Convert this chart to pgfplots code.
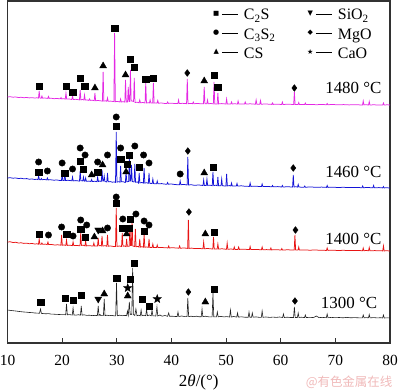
\documentclass[border=0pt]{standalone}
\usepackage{fontspec}
\setmainfont{Liberation Serif}
\newfontfamily\cjk{Noto Sans CJK SC}
\newfontfamily\djv{DejaVu Sans}
\usepackage{pgfplots}
\pgfplotsset{compat=1.18}
\definecolor{cmag}{RGB}{228,40,228}
\definecolor{cblu}{RGB}{20,20,215}
\definecolor{cred}{RGB}{232,20,20}
\definecolor{cblk}{RGB}{35,35,35}
\definecolor{cfrm}{RGB}{50,50,50}
\definecolor{cwm}{RGB}{240,185,185}
\newcommand{\lsym}[2][7]{\makebox[0pt][c]{\raisebox{2bp}{$\vcenter{\hbox{\djv\fontsize{#1}{#1}\selectfont #2}}$}}}
\newcommand{\lent}[3][7]{\lsym[#1]{#2}\hspace{5.7bp}\rule[5.6bp]{16bp}{0.8bp}\hspace{6bp}#3}
\pgfdeclareplotmark{fstar}{%
 \pgfpathmoveto{\pgfqpointpolar{90}{\pgfplotmarksize}}%
 \pgfpathlineto{\pgfqpointpolar{126}{0.42\pgfplotmarksize}}%
 \pgfpathlineto{\pgfqpointpolar{162}{\pgfplotmarksize}}%
 \pgfpathlineto{\pgfqpointpolar{198}{0.42\pgfplotmarksize}}%
 \pgfpathlineto{\pgfqpointpolar{234}{\pgfplotmarksize}}%
 \pgfpathlineto{\pgfqpointpolar{270}{0.42\pgfplotmarksize}}%
 \pgfpathlineto{\pgfqpointpolar{306}{\pgfplotmarksize}}%
 \pgfpathlineto{\pgfqpointpolar{342}{0.42\pgfplotmarksize}}%
 \pgfpathlineto{\pgfqpointpolar{18}{\pgfplotmarksize}}%
 \pgfpathlineto{\pgfqpointpolar{54}{0.42\pgfplotmarksize}}%
 \pgfpathclose\pgfusepathqfillstroke}
\begin{document}
\begin{tikzpicture}
\useasboundingbox (-7.5bp,-47bp) rectangle (392.5bp,343bp);
\begin{axis}[at={(0,0)},anchor=south west,scale only axis,width=382.5bp,height=342bp,
 xmin=10,xmax=80,ymin=0,ymax=342,clip=false,
 axis line style={cfrm,line width=1.1bp},
 xtick={10,20,30,40,50,60,70,80},ytick=\empty,xtick pos=bottom,tick align=inside,
 major tick length=5bp,tick style={cfrm,line width=0.9bp},
 /pgf/number format/assume math mode=true,
 xticklabel style={font=\fontsize{15.5}{18}\selectfont,anchor=base,yshift=-22bp},
 xlabel={2{\itshape θ}/(°)},
 xlabel style={font=\fontsize{17}{20}\selectfont,at={(axis description cs:0.5,0)},anchor=base,yshift=-43bp},
]
% 1300
\addplot[cblk,line width=0.6bp,forget plot] coordinates {(10,33)(10.5,32.6)(11,32.3)(11.5,32)(12,31.6)(12.5,31.3)(13,31)(13.5,30.8)(14,30.5)(14.5,30.4)(15,30)(15.5,29.9)(15.85,29.7)(16.05,34)(16.2,29.6)(16.6,29.4)(17,29.2)(17.5,29.4)(18,28.9)(18.5,28.8)(19,28.6)(19.5,28.5)(20,28.3)(20.4,28.4)(20.65,28.2)(20.8,39)(20.95,28.2)(21.3,28.4)(21.85,28)(22.0,35)(22.15,28)(22.6,27.9)(23.0,28.3)(23.35,27.8)(23.5,37)(23.65,27.8)(24.0,28.2)(24.5,27.6)(25.0,27.8)(25.5,27.4)(26.0,27.6)(26.45,27.4)(26.6,37)(26.75,27.5)(26.9,28.5)(27.1,27.4)(27.55,27.4)(27.7,44)(27.85,27.4)(28.2,27.8)(28.6,27.3)(29.1,27.6)(29.5,27.2)(29.8,27.2)(29.95,60)(30.1,27.2)(30.5,27.8)(31.0,27.3)(31.5,27.6)(31.8,27.3)(31.95,32)(32.1,27.6)(32.3,41)(32.45,28.5)(32.6,29)(32.75,28.5)(32.9,75)(33.05,28.5)(33.3,27.5)(33.5,34)(33.7,27.3)(34.0,27.8)(34.3,27.3)(34.45,33)(34.6,27.3)(35.0,27.8)(35.3,27.3)(35.45,34)(35.6,27.3)(36.0,28)(36.3,27.2)(36.45,33)(36.6,27.2)(37.15,27)(37.35,36)(37.5,27)(37.9,28)(38.3,26.8)(38.8,27.5)(39.3,26.7)(39.5,30)(39.65,26.7)(40.2,26.8)(40.7,26.5)(41.05,26.5)(41.2,31)(41.35,26.5)(41.9,27)(42.4,26.4)(42.85,26.4)(43.0,45)(43.15,26.4)(43.6,26.8)(44.1,26.3)(44.6,26.8)(45.0,26.3)(45.45,26.3)(45.6,34)(45.75,26.3)(46.2,26.8)(46.8,26.2)(47.45,26.2)(47.6,50)(47.75,26.2)(48.25,26.2)(48.4,31)(48.55,26.2)(49.0,26.6)(49.6,26.1)(50.1,26.4)(50.65,26)(50.8,33)(50.95,26)(51.4,26.5)(51.95,25.9)(52.1,30)(52.25,25.9)(52.8,26.2)(53.4,25.8)(54.05,25.8)(54.2,31)(54.35,25.8)(54.65,25.8)(54.8,30)(54.95,25.8)(55.5,26.1)(56.0,25.7)(56.45,25.7)(56.6,32)(56.75,25.7)(57.3,26)(58.0,25.6)(58.6,25.9)(59.2,25.6)(59.8,26)(60.35,25.5)(60.5,29)(60.65,25.5)(61.2,25.8)(61.8,25.5)(62.35,25.5)(62.5,36)(62.65,25.5)(63.05,25.5)(63.2,30)(63.35,25.5)(63.8,25.8)(64.35,25.4)(64.5,28)(64.65,25.4)(65.3,25.7)(66.0,25.4)(66.5,27)(67.0,25.4)(67.6,25.6)(68.35,25.3)(68.5,29)(68.65,25.3)(69.3,25.6)(70.0,25.3)(70.7,25.5)(71.4,25.2)(72.1,25.6)(72.8,25.2)(73.5,25.4)(74.2,25.2)(74.95,25.2)(75.1,28)(75.25,25.2)(75.7,25.4)(76.05,25.1)(76.2,28.5)(76.35,25.1)(77.0,25.4)(77.7,25.1)(78.3,25.3)(78.65,25)(78.8,28)(78.95,25)(79.5,25.2)(80,25)};
% 1400
\addplot[cred,line width=0.75bp,forget plot] coordinates {(10,101)(10.5,101.2)(11,100.5)(11.5,100.7)(12,100)(12.5,100.2)(13,99.6)(13.5,99.8)(14,99.3)(14.5,99.5)(15,99)(15.4,99.2)(15.67,98.8)(15.8,104)(15.93,98.8)(16.17,98.7)(16.3,100)(16.43,98.7)(16.9,98.9)(17.27,98.4)(17.4,101)(17.53,98.4)(18.1,98.5)(18.6,98)(19.2,98.2)(19.77,97.8)(19.9,108)(20.03,97.8)(20.4,98)(20.67,97.6)(20.8,103)(20.93,97.6)(21.4,97.8)(21.87,97.4)(22.0,101)(22.13,97.4)(22.6,97.6)(23.27,97.2)(23.4,110)(23.53,97.6)(23.9,97.8)(24.17,97.1)(24.3,102)(24.43,97.1)(25.0,97.3)(25.67,96.9)(25.8,100)(25.93,96.9)(26.47,96.9)(26.6,105)(26.73,97.2)(27.0,97.5)(27.17,97)(27.3,107)(27.43,97)(27.9,97.3)(28.17,96.7)(28.3,108)(28.43,96.8)(28.9,97)(29.3,96.6)(29.77,96.5)(29.9,135)(30.03,96.6)(30.5,97)(30.87,96.5)(31.0,110)(31.13,96.8)(31.4,97)(31.67,96.4)(31.8,104)(31.93,96.7)(32.27,96.8)(32.4,118)(32.53,97.5)(32.67,97.5)(32.8,120)(32.93,97)(33.27,96.5)(33.4,114)(33.53,96.3)(33.9,96.5)(34.07,95.9)(34.2,104)(34.33,95.9)(34.6,96.3)(34.87,95.8)(35.0,109)(35.13,95.8)(35.5,96)(35.77,95.6)(35.9,104)(36.03,95.6)(36.47,95.6)(36.6,99)(36.73,95.5)(37.27,95.4)(37.4,98)(37.53,95.4)(38.2,95.6)(38.8,95.2)(39.37,95.1)(39.5,97)(39.63,95.1)(40.4,95.2)(41.37,94.8)(41.5,97)(41.63,94.8)(42.4,95)(42.97,94.6)(43.1,123)(43.23,94.6)(43.7,94.9)(44.3,94.4)(45.0,94.6)(45.77,94.2)(45.9,101)(46.03,94.2)(46.6,94.5)(47.57,94)(47.7,106)(47.83,94)(48.37,94)(48.5,99)(48.63,94)(49.3,94.2)(50.07,93.7)(50.2,100)(50.33,93.7)(50.9,94)(51.37,93.6)(51.5,96)(51.63,93.6)(52.17,93.6)(52.3,96)(52.43,93.6)(53.3,93.8)(54.27,93.4)(54.4,96.5)(54.53,93.4)(55.5,93.6)(56.47,93.2)(56.6,96)(56.73,93.2)(57.4,93.4)(58.07,93.1)(58.2,95)(58.33,93.1)(59.2,93.3)(60.07,93)(60.2,94.5)(60.33,93)(61.3,93.2)(62.47,92.9)(62.6,108)(62.73,92.9)(63.17,92.9)(63.3,96)(63.43,92.9)(64.3,93.1)(65.3,92.8)(66.3,93)(67.4,92.7)(68.37,92.6)(68.5,95)(68.63,92.6)(69.5,92.8)(70.5,92.5)(71.5,92.7)(72.5,92.4)(73.5,92.6)(74.97,92.3)(75.1,95)(75.23,92.3)(75.7,92.5)(76.07,92.2)(76.2,95.5)(76.33,92.2)(77.2,92.4)(78.67,92.1)(78.8,97)(78.93,92.1)(79.5,92.2)(80,92)};
% 1460
\addplot[cblu,line width=0.75bp,forget plot] coordinates {(10,165)(10.5,165.3)(11,164.8)(11.5,165)(12,164.5)(12.5,164.7)(13,164.2)(13.5,164.4)(14,163.8)(14.5,164)(15,163.5)(15.3,163.8)(15.57,163.4)(15.7,167)(15.83,163.4)(16.07,163.3)(16.2,164.5)(16.33,163.3)(16.8,163.5)(17.17,163.1)(17.3,165)(17.43,163.1)(17.9,163.2)(18.5,162.8)(19.0,163)(19.5,162.6)(19.87,162.5)(20.0,168)(20.13,162.6)(20.37,162.6)(20.5,170)(20.63,162.5)(21.1,162.7)(21.77,162.2)(21.9,166)(22.03,162.1)(22.5,162.4)(23.17,161.9)(23.3,172)(23.43,162.3)(23.6,162.3)(23.77,162)(23.9,166)(24.03,161.9)(24.17,161.8)(24.3,165)(24.43,161.7)(24.9,161.9)(25.27,161.5)(25.4,163.5)(25.53,161.5)(26.0,161.7)(26.37,161.3)(26.5,166)(26.63,161.5)(26.9,162)(27.17,161.5)(27.3,173)(27.43,162)(27.57,162)(27.7,167)(27.83,161.5)(28.17,161)(28.3,170)(28.43,161.2)(28.8,161.4)(29.2,160.8)(29.5,161.1)(29.77,160.6)(29.9,211)(30.03,160.8)(30.3,161.3)(30.57,160.9)(30.7,177)(30.83,161.2)(31.2,161.2)(31.57,160.5)(31.7,171)(31.83,161.2)(32.17,161.5)(32.3,184)(32.43,162)(32.57,162)(32.7,178)(32.83,161.5)(33.17,161)(33.3,179)(33.43,160.8)(33.8,161)(33.97,160)(34.1,170)(34.23,160.1)(34.6,160.5)(34.87,160)(35.0,175)(35.13,159.9)(35.5,160.3)(35.77,159.6)(35.9,170)(36.03,159.7)(36.47,159.4)(36.6,164)(36.73,159.4)(37.27,159.2)(37.4,162)(37.53,159.2)(38.2,159.4)(38.7,158.9)(39.17,158.8)(39.3,160.5)(39.43,158.8)(40.0,159)(40.7,158.4)(41.47,158.3)(41.6,162)(41.73,158.3)(42.3,158.6)(42.87,158)(43.0,186)(43.13,158)(43.6,158.3)(44.2,157.7)(45.0,158)(45.77,157.5)(45.9,163)(46.03,157.5)(46.37,157.5)(46.5,164)(46.63,157.6)(47.1,157.8)(47.47,157.3)(47.6,171)(47.73,157.4)(48.1,157.8)(48.37,157.3)(48.5,166)(48.63,157.3)(49.07,157.2)(49.2,164)(49.33,157.2)(49.97,157)(50.1,169)(50.23,157.1)(50.6,157.4)(50.87,157)(51.0,160)(51.13,157)(51.87,156.9)(52.0,159.5)(52.13,156.9)(52.8,157.2)(53.5,156.7)(54.27,156.6)(54.4,160)(54.53,156.6)(55.3,156.8)(56.47,156.4)(56.6,159)(56.73,156.4)(57.5,156.6)(58.37,156.2)(58.5,157.5)(58.63,156.2)(59.5,156.4)(60.17,156)(60.3,157.5)(60.43,156)(61.3,156.3)(62.17,155.9)(62.3,168)(62.43,156)(62.8,156.3)(63.07,155.9)(63.2,158.5)(63.33,155.9)(64.27,155.8)(64.4,157)(64.53,155.8)(65.5,156)(66.5,155.7)(67.5,155.9)(68.37,155.6)(68.5,157.5)(68.63,155.6)(69.5,155.8)(70.5,155.5)(71.5,155.7)(72.5,155.4)(73.5,155.6)(74.87,155.3)(75.0,157)(75.13,155.3)(75.9,155.5)(76.87,155.2)(77.0,157.5)(77.13,155.2)(78.0,155.4)(78.67,155.1)(78.8,156.5)(78.93,155.1)(79.5,155.2)(80,155)};
% 1480
\addplot[cmag,line width=0.75bp,forget plot] coordinates {(10,246)(10.5,246.3)(11,245.8)(11.5,246)(12,245.5)(12.5,245.7)(13,245.3)(13.5,245.5)(14,245.1)(14.5,245.3)(15,245)(15.4,245.2)(15.67,244.9)(15.8,252)(15.93,244.9)(16.17,244.8)(16.3,247)(16.43,244.8)(16.8,245)(17.37,244.6)(17.5,246.5)(17.63,244.6)(18,244.8)(18.5,244.3)(19,244.5)(19.67,244.2)(19.8,245.5)(19.93,244.1)(20.3,244.3)(20.57,243.9)(20.7,250)(20.83,243.9)(21.2,244.1)(21.77,243.5)(21.9,247)(22.03,243.5)(22.5,243.7)(23.17,243.1)(23.3,253)(23.43,243.1)(23.7,243.6)(23.97,243)(24.1,248)(24.23,242.9)(24.6,243)(24.87,242.6)(25.0,244)(25.13,242.6)(25.5,242.8)(25.87,242.3)(26.0,250)(26.13,242.3)(26.6,242.5)(27.0,242.2)(27.37,241.9)(27.5,271)(27.63,241.9)(28.0,242.2)(28.17,241.7)(28.3,245)(28.43,241.7)(28.9,241.9)(29.3,241.5)(29.47,241.4)(29.6,310)(29.73,241.3)(30.1,241.6)(30.57,241)(30.7,244)(30.83,241)(31.2,241.3)(31.47,240.9)(31.6,263)(31.73,241)(31.97,241)(32.1,256)(32.23,241.5)(32.37,241.5)(32.5,273)(32.63,242)(32.8,242)(33.07,241.5)(33.2,265)(33.33,240.5)(33.7,240.8)(34.07,240.2)(34.2,243)(34.33,240.2)(34.8,240.5)(35.17,240)(35.3,260)(35.43,240)(35.8,240.3)(35.97,240)(36.1,243)(36.23,240)(36.57,239.9)(36.7,260)(36.83,239.9)(37.2,240.1)(37.37,239.8)(37.5,242.5)(37.63,239.8)(38.2,240)(38.7,239.6)(39.17,239.6)(39.3,241)(39.43,239.6)(40.0,239.8)(40.6,239.5)(41.17,239.4)(41.3,243)(41.43,239.4)(42.0,239.7)(42.77,239.3)(42.9,264)(43.03,239.3)(43.5,239.6)(43.87,239.3)(44.0,241)(44.13,239.3)(44.8,239.5)(45.5,239.2)(45.87,239.2)(46.0,256)(46.13,239.2)(46.47,239.2)(46.6,243)(46.73,239.2)(47.2,239.5)(47.67,239.1)(47.8,261)(47.93,239.1)(48.37,239.1)(48.5,250)(48.63,239.1)(49.2,239.4)(49.97,239)(50.1,244)(50.23,239)(50.87,239)(51.0,241)(51.13,239)(51.6,239.3)(52.07,238.9)(52.2,242)(52.33,238.9)(52.9,239.1)(53.37,238.9)(53.5,241)(53.63,238.9)(54.4,239.2)(55.37,238.8)(55.5,243)(55.63,238.8)(56.17,238.8)(56.3,242.5)(56.43,238.8)(57.3,239)(58.37,238.6)(58.5,240)(58.63,238.6)(59.4,238.8)(60.17,238.5)(60.3,241)(60.43,238.5)(61.3,238.8)(62.37,238.5)(62.5,251)(62.63,238.5)(63.17,238.4)(63.3,240.5)(63.43,238.4)(64.37,238.4)(64.5,240)(64.63,238.4)(65.5,238.6)(66.5,238.3)(67.5,238.5)(68.37,238.3)(68.5,239.5)(68.63,238.3)(69.5,238.5)(70.5,238.2)(71.5,238.4)(72.5,238.1)(73.5,238.3)(74.5,238.1)(74.97,238.1)(75.1,242)(75.23,238.1)(75.6,238.3)(76.07,238)(76.2,241.5)(76.33,238)(77.0,238.2)(77.8,238)(78.67,238)(78.8,240)(78.93,238)(79.5,238.2)(80,238)};
% markers: C2S
\addplot[only marks,mark=square*,mark size=3.2bp,black,forget plot] coordinates {
(15.8,257)(20.7,257)(21.9,251)(23.3,265)(24.1,257)(29.6,315)(32.5,284)(33.2,276)(35.3,264)(36.7,265)(47.8,268)(48.5,256)
(15.7,171)(20.5,170)(23.3,182)(23.9,174)(26.5,171)(29.9,217)(30.7,184)(31.9,179)(32.3,188)(34.1,176)(47.6,176)
(15.8,109)(20.8,109)(23.4,114)(24.2,106)(29.9,140)(31.1,115)(32.3,115)(32.4,124)(35.0,112)(47.8,111)
(16.1,41)(20.6,45)(22.0,43)(23.5,48)(30.0,65)(32.4,64)(33.2,80)(34.7,44)(35.9,37)(47.8,54)};
% C3S2
\addplot[only marks,mark=*,mark size=3.2bp,black,forget plot] coordinates {
(15.7,181)(17.3,172)(20.0,180)(21.9,174)(23.3,195)(24.2,188)(26.5,181)(28.3,188)(29.9,226)(30.7,195)(33.3,197)(34.9,188)(35.9,180)(41.6,169)
(17.5,108)(19.9,116)(22.0,107)(23.4,123)(24.5,118)(28.3,115)(29.9,146)(31.1,124)(33.5,129)(35.0,122)(35.9,118)};
% CS
\addplot[only marks,mark=triangle*,mark size=4bp,black,forget plot] coordinates {
(26.0,255)(27.5,277)(31.6,268)(46.0,262)
(25.4,168)(27.4,178)(31.7,171)(46.0,170)
(25.9,106)(27.4,112)(31.8,109)(46.2,109)
(27.7,49)(32.0,47)(46.2,41)};
% SiO2
\addplot[only marks,mark=triangle*,mark options={rotate=180},mark size=4bp,black,forget plot] coordinates {(26.6,113)(26.6,44)};
% MgO
\addplot[only marks,mark=diamond*,mark size=3.4bp,black,forget plot] coordinates {(42.9,270)(62.5,255)(43.0,192)(62.3,175)(43.2,131)(62.7,113)(43.1,51)(62.6,42)};
% CaO
\addplot[only marks,mark=fstar,mark size=4.3bp,black,forget plot] coordinates {(32.0,55)(37.4,44)};
% legend (text)
\begin{scope}[every node/.style={anchor=base west,inner sep=0pt,font=\fontsize{16}{18}\selectfont}]
\node at (axis cs:48.16,323) {\lent[6.5]{■}{C\textsubscript{2}S}};
\node at (axis cs:48.16,303.7) {\lent[7]{●}{C\textsubscript{3}S\textsubscript{2}}};
\node at (axis cs:48.16,284.7) {\lent[7]{▲}{CS}};
\node at (axis cs:65.36,323) {\lent[7]{▼}{SiO\textsubscript{2}}};
\node at (axis cs:65.36,303.7) {\lent[7]{◆}{MgO}};
\node at (axis cs:65.36,284.7) {\lent[7]{★}{CaO}};
\end{scope}
\node[font=\fontsize{17}{20}\selectfont] at (axis cs:73.3,255) {1480 °C};
\node[font=\fontsize{17}{20}\selectfont] at (axis cs:73.3,171) {1460 °C};
\node[font=\fontsize{17}{20}\selectfont] at (axis cs:73.3,104) {1400 °C};
\node[font=\fontsize{17}{20}\selectfont] at (axis cs:72.5,40) {1300 °C};
\node[font=\cjk\fontsize{12.5}{14}\selectfont,text=cwm] at (axis cs:72.5,-39) {@有色金属在线};
\end{axis}
\end{tikzpicture}
\end{document}
